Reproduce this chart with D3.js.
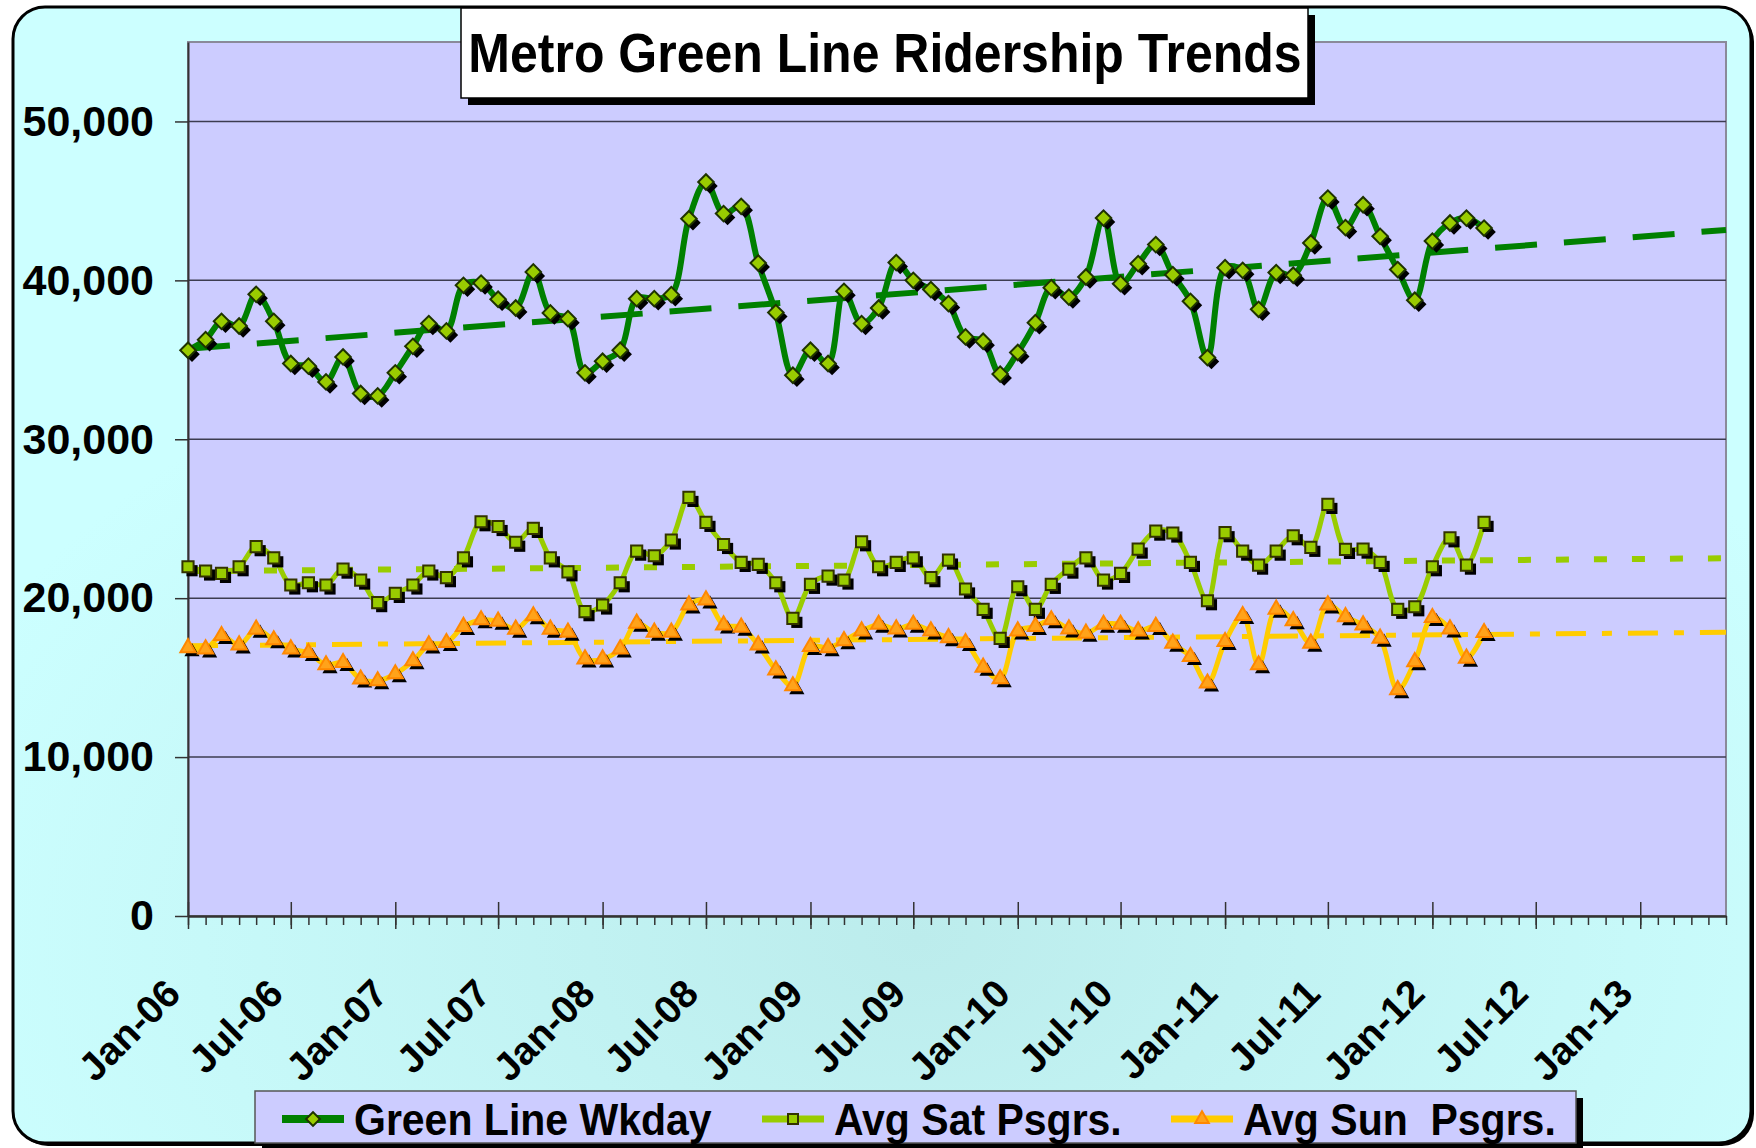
<!DOCTYPE html>
<html>
<head>
<meta charset="utf-8">
<script src="https://cdn.jsdelivr.net/npm/d3@7/dist/d3.min.js"></script>
<style>
  body { margin: 0; background: #ffffff; }
  svg { display: block; }
  text { font-family: "Liberation Sans", Arial, sans-serif; font-weight: bold; fill: #000; }
</style>
</head>
<body>
<div id="chart"></div>
<script>
(function () {

  // monthly averages, Jan-06 .. Apr-12
  var weekday = [35600, 36270, 37420, 37130, 39120, 37420, 34770, 34600, 33610, 35180, 32880, 32730,
                 34180, 35850, 37280, 36820, 39690, 39830, 38810, 38260, 40530, 37950, 37590, 34180,
                 34910, 35600, 38850, 38850, 39100, 43880, 46190, 44200, 44660, 41090, 37970, 34030,
                 35600, 34770, 39310, 37280, 38260, 41120, 40000, 39420, 38540, 36440, 36170, 34100,
                 35460, 37340, 39540, 38950, 40210, 43920, 39790, 41050, 42250, 40360, 38680, 35140,
                 40800, 40630, 38180, 40490, 40320, 42350, 45180, 43320, 44760, 42770, 40680, 38750,
                 42470, 43610, 43920, 43290]

  var satPsgrs = [21980, 21710, 21560, 21980, 23240, 22540, 20830, 20970, 20830, 21830, 21140, 19720,
                  20300, 20830, 21710, 21290, 22540, 24810, 24510, 23520, 24390, 22540, 21660, 19150,
                  19570, 20970, 22960, 22670, 23660, 26340, 24770, 23380, 22250, 22130, 20970, 18730,
                  20870, 21390, 21140, 23550, 21980, 22250, 22540, 21290, 22400, 20580, 19300, 17470,
                  20720, 19300, 20870, 21830, 22540, 21140, 21560, 23090, 24220, 24100, 22250, 19840,
                  24120, 22960, 22080, 22960, 23930, 23200, 25900, 23070, 23090, 22250, 19300, 19460,
                  21980, 23800, 22080, 24770]

  var sunPsgrs = [16880, 16800, 17640, 17050, 18040, 17370, 16800, 16570, 15800, 15940, 14900, 14790,
                  15230, 16050, 17050, 17200, 18210, 18630, 18540, 18040, 18880, 18040, 17850, 16170,
                  16170, 16800, 18420, 17850, 17850, 19570, 19880, 18310, 18170, 17050, 15480, 14480,
                  16950, 16880, 17320, 17930, 18350, 18060, 18350, 17930, 17510, 17200, 15650, 14920,
                  17930, 18210, 18630, 18060, 17790, 18350, 18350, 17930, 18210, 17160, 16320, 14650,
                  17260, 18900, 15800, 19300, 18580, 17160, 19570, 18830, 18310, 17470, 14230, 16000,
                  18770, 18060, 16220, 17830]

  var months = d3.timeMonth.range(new Date(2006, 0, 1), new Date(2012, 4, 1))
  var axisStart = new Date(2006, 0, 1)
  var axisEnd = new Date(2013, 5, 1)
  var yTicks = [0, 10000, 20000, 30000, 40000, 50000]
  var yMax = 55000
  var seriesNames = ["Green Line Wkday", "Avg Sat Psgrs.", "Avg Sun  Psgrs."]
  var title = "Metro Green Line Ridership Trends"

  var width = 1756, height = 1148
  var plot = { left: 188, right: 1726, top: 42, bottom: 916 }

  var svg = d3.select("#chart").append("svg")
    .attr("width", width)
    .attr("height", height)

  var defs = svg.append("defs")
  var grad = defs.append("radialGradient")
    .attr("id", "bg")
    .attr("cx", "52%").attr("cy", "82%").attr("r", "60%")
  grad.append("stop").attr("offset", "0%").attr("stop-color", "#bcecec")
  grad.append("stop").attr("offset", "100%").attr("stop-color", "#ccffff")

  // outer frame
  svg.append("rect")
    .attr("x", 16).attr("y", 10).attr("width", 1738).attr("height", 1136)
    .attr("rx", 32)
    .attr("fill", "#000")
  svg.append("rect")
    .attr("x", 13).attr("y", 7).attr("width", 1738).attr("height", 1136)
    .attr("rx", 32)
    .attr("fill", "url(#bg)")
    .attr("stroke", "#000")
    .attr("stroke-width", 3)

  var x = d3.scaleTime()
    .domain([axisStart, axisEnd])
    .range([plot.left, plot.right])

  var y = d3.scaleLinear()
    .domain([0, yMax])
    .range([plot.bottom, plot.top])

  // plot area
  svg.append("rect")
    .attr("x", plot.left).attr("y", plot.top)
    .attr("width", plot.right - plot.left).attr("height", plot.bottom - plot.top)
    .attr("fill", "#ccccff")
    .attr("stroke", "#8a8a9a")
    .attr("stroke-width", 2)

  svg.selectAll(".grid")
    .data(yTicks.filter(function (d) { return d > 0 }))
    .enter().append("line")
    .attr("class", "grid")
    .attr("x1", plot.left).attr("x2", plot.right)
    .attr("y1", function (d) { return y(d) })
    .attr("y2", function (d) { return y(d) })
    .attr("stroke", "#3c3c50")
    .attr("stroke-width", 1.5)

  // y axis
  var yAxis = d3.axisLeft(y)
    .tickValues(yTicks)
    .tickSize(13)
    .tickSizeOuter(0)
    .tickPadding(21)
    .tickFormat(d3.format(","))
  var yg = svg.append("g")
    .attr("class", "axis y-axis")
    .attr("transform", "translate(" + plot.left + ",0)")
    .call(yAxis)
  yg.select(".domain").attr("stroke", "#333").attr("stroke-width", 2)
  yg.selectAll(".tick line").attr("stroke", "#333").attr("stroke-width", 1.5)
  yg.selectAll("text")
    .attr("font-size", 43)
    .attr("font-family", "Liberation Sans, Arial, sans-serif")
    .attr("font-weight", "bold")
    .attr("fill", "#000")

  // x axis: minor monthly ticks, then majors every 6 months
  var xMinor = d3.axisBottom(x)
    .ticks(d3.timeMonth.every(1))
    .tickSize(9)
    .tickSizeOuter(0)
    .tickFormat("")
  var xm = svg.append("g")
    .attr("class", "axis x-minor")
    .attr("transform", "translate(0," + plot.bottom + ")")
    .call(xMinor)
  xm.select(".domain").remove()
  xm.selectAll(".tick line").attr("stroke", "#333").attr("stroke-width", 1.5)

  var xAxis = d3.axisBottom(x)
    .ticks(d3.timeMonth.every(6))
    .tickSize(13)
    .tickSizeOuter(0)
    .tickFormat(d3.timeFormat("%b-%y"))
  var xg = svg.append("g")
    .attr("class", "axis x-axis")
    .attr("transform", "translate(0," + plot.bottom + ")")
    .call(xAxis)
  xg.select(".domain").attr("stroke", "#333").attr("stroke-width", 2.5)
  xg.selectAll(".tick line").attr("y1", -14).attr("stroke", "#333").attr("stroke-width", 1.5)
  xg.selectAll("text")
    .attr("x", 0).attr("y", 0).attr("dy", 0)
    .attr("text-anchor", "end")
    .attr("transform", "translate(-6,80) rotate(-45)")
    .attr("font-size", 39)
    .attr("font-family", "Liberation Sans, Arial, sans-serif")
    .attr("font-weight", "bold")
    .attr("fill", "#000")

  // series
  var series = [
    { name: seriesNames[0], values: weekday, line: "#008000", lw: 6, dash: "42,27", tw: 6,
      symbol: d3.symbolSquare, size: 120, rotate: 45, fill: "#99cc00", stroke: "#1e3300" },
    { name: seriesNames[1], values: satPsgrs, line: "#99cc00", lw: 5, dash: "13,25", tw: 6,
      symbol: d3.symbolSquare, size: 125, rotate: 0, fill: "#99cc00", stroke: "#333300" },
    { name: seriesNames[2], values: sunPsgrs, line: "#ffcc00", lw: 5, dash: "30,16,10,16", tw: 5,
      symbol: d3.symbolTriangle, size: 100, rotate: 0, fill: "#ffa31a", stroke: "#ff8800" }
  ]

  // least squares trend (like the Excel linear trendline, forecast to axis end)
  series.forEach(function (s) {
    var xs = months.map(function (d) { return +d })
    var mx = d3.mean(xs), my = d3.mean(s.values)
    var num = d3.sum(xs, function (v, i) { return (v - mx) * (s.values[i] - my) })
    var den = d3.sum(xs, function (v) { return (v - mx) * (v - mx) })
    var b = num / den, a = my - b * mx
    s.trend = [axisStart, axisEnd].map(function (d) { return { date: d, value: a + b * (+d) } })
  })

  var line = d3.line()
    .x(function (d, i) { return x(months[i]) })
    .y(function (d) { return y(d) })
    .curve(d3.curveCatmullRom)

  var trendLine = d3.line()
    .x(function (d) { return x(d.date) })
    .y(function (d) { return y(d.value) })

  series.forEach(function (s) {
    svg.append("path")
      .datum(s.values)
      .attr("d", line)
      .attr("fill", "none")
      .attr("stroke", s.line)
      .attr("stroke-width", s.lw)
      .attr("stroke-linejoin", "round")
  })

  series.forEach(function (s) {
    svg.append("path")
      .datum(s.trend)
      .attr("d", trendLine)
      .attr("fill", "none")
      .attr("stroke", s.line)
      .attr("stroke-width", s.tw)
      .attr("stroke-dasharray", s.dash)
  })

  series.forEach(function (s) {
    var sym = d3.symbol().type(s.symbol).size(s.size)
    var g = svg.append("g")
    g.selectAll(".shadow")
      .data(s.values)
      .enter().append("path")
      .attr("class", "shadow")
      .attr("d", sym)
      .attr("transform", function (d, i) {
        return "translate(" + (x(months[i]) + 4) + "," + (y(d) + 4) + ") rotate(" + s.rotate + ")"
      })
      .attr("fill", "#000")
    g.selectAll(".mark")
      .data(s.values)
      .enter().append("path")
      .attr("class", "mark")
      .attr("d", sym)
      .attr("transform", function (d, i) {
        return "translate(" + x(months[i]) + "," + y(d) + ") rotate(" + s.rotate + ")"
      })
      .attr("fill", s.fill)
      .attr("stroke", s.stroke)
      .attr("stroke-width", 2)
  })

  // title box
  svg.append("rect")
    .attr("x", 468).attr("y", 15).attr("width", 847).attr("height", 90)
    .attr("fill", "#000")
  svg.append("rect")
    .attr("x", 461).attr("y", 8).attr("width", 847).attr("height", 90)
    .attr("fill", "#fff")
    .attr("stroke", "#000")
    .attr("stroke-width", 1.5)
  svg.append("text")
    .attr("transform", "translate(885,72) scale(1,1.1)")
    .attr("text-anchor", "middle")
    .attr("font-size", 50)
    .text(title)

  // legend
  var legend = svg.append("g").attr("class", "legend")
  legend.append("rect")
    .attr("x", 262).attr("y", 1098).attr("width", 1321).attr("height", 52)
    .attr("fill", "#000")
  legend.append("rect")
    .attr("x", 255).attr("y", 1091).attr("width", 1321).attr("height", 52)
    .attr("fill", "#ccccff")
    .attr("stroke", "#555")
    .attr("stroke-width", 1.5)

  var legendX = [282, 762, 1171]
  series.forEach(function (s, i) {
    var lx = legendX[i], ly = 1119
    legend.append("line")
      .attr("x1", lx).attr("x2", lx + 62)
      .attr("y1", ly).attr("y2", ly)
      .attr("stroke", s.line)
      .attr("stroke-width", s.lw + 2)
    legend.append("path")
      .attr("d", d3.symbol().type(s.symbol).size(s.size * 0.8)())
      .attr("transform", "translate(" + (lx + 31) + "," + ly + ") rotate(" + s.rotate + ")")
      .attr("fill", s.fill)
      .attr("stroke", s.stroke)
      .attr("stroke-width", 2)
    legend.append("text")
      .attr("transform", "translate(" + (lx + 72) + ",1135) scale(1,1.08)")
      .attr("font-size", 41)
      .style("white-space", "pre")
      .text(s.name)
  })

})()
</script>
</body>
</html>
